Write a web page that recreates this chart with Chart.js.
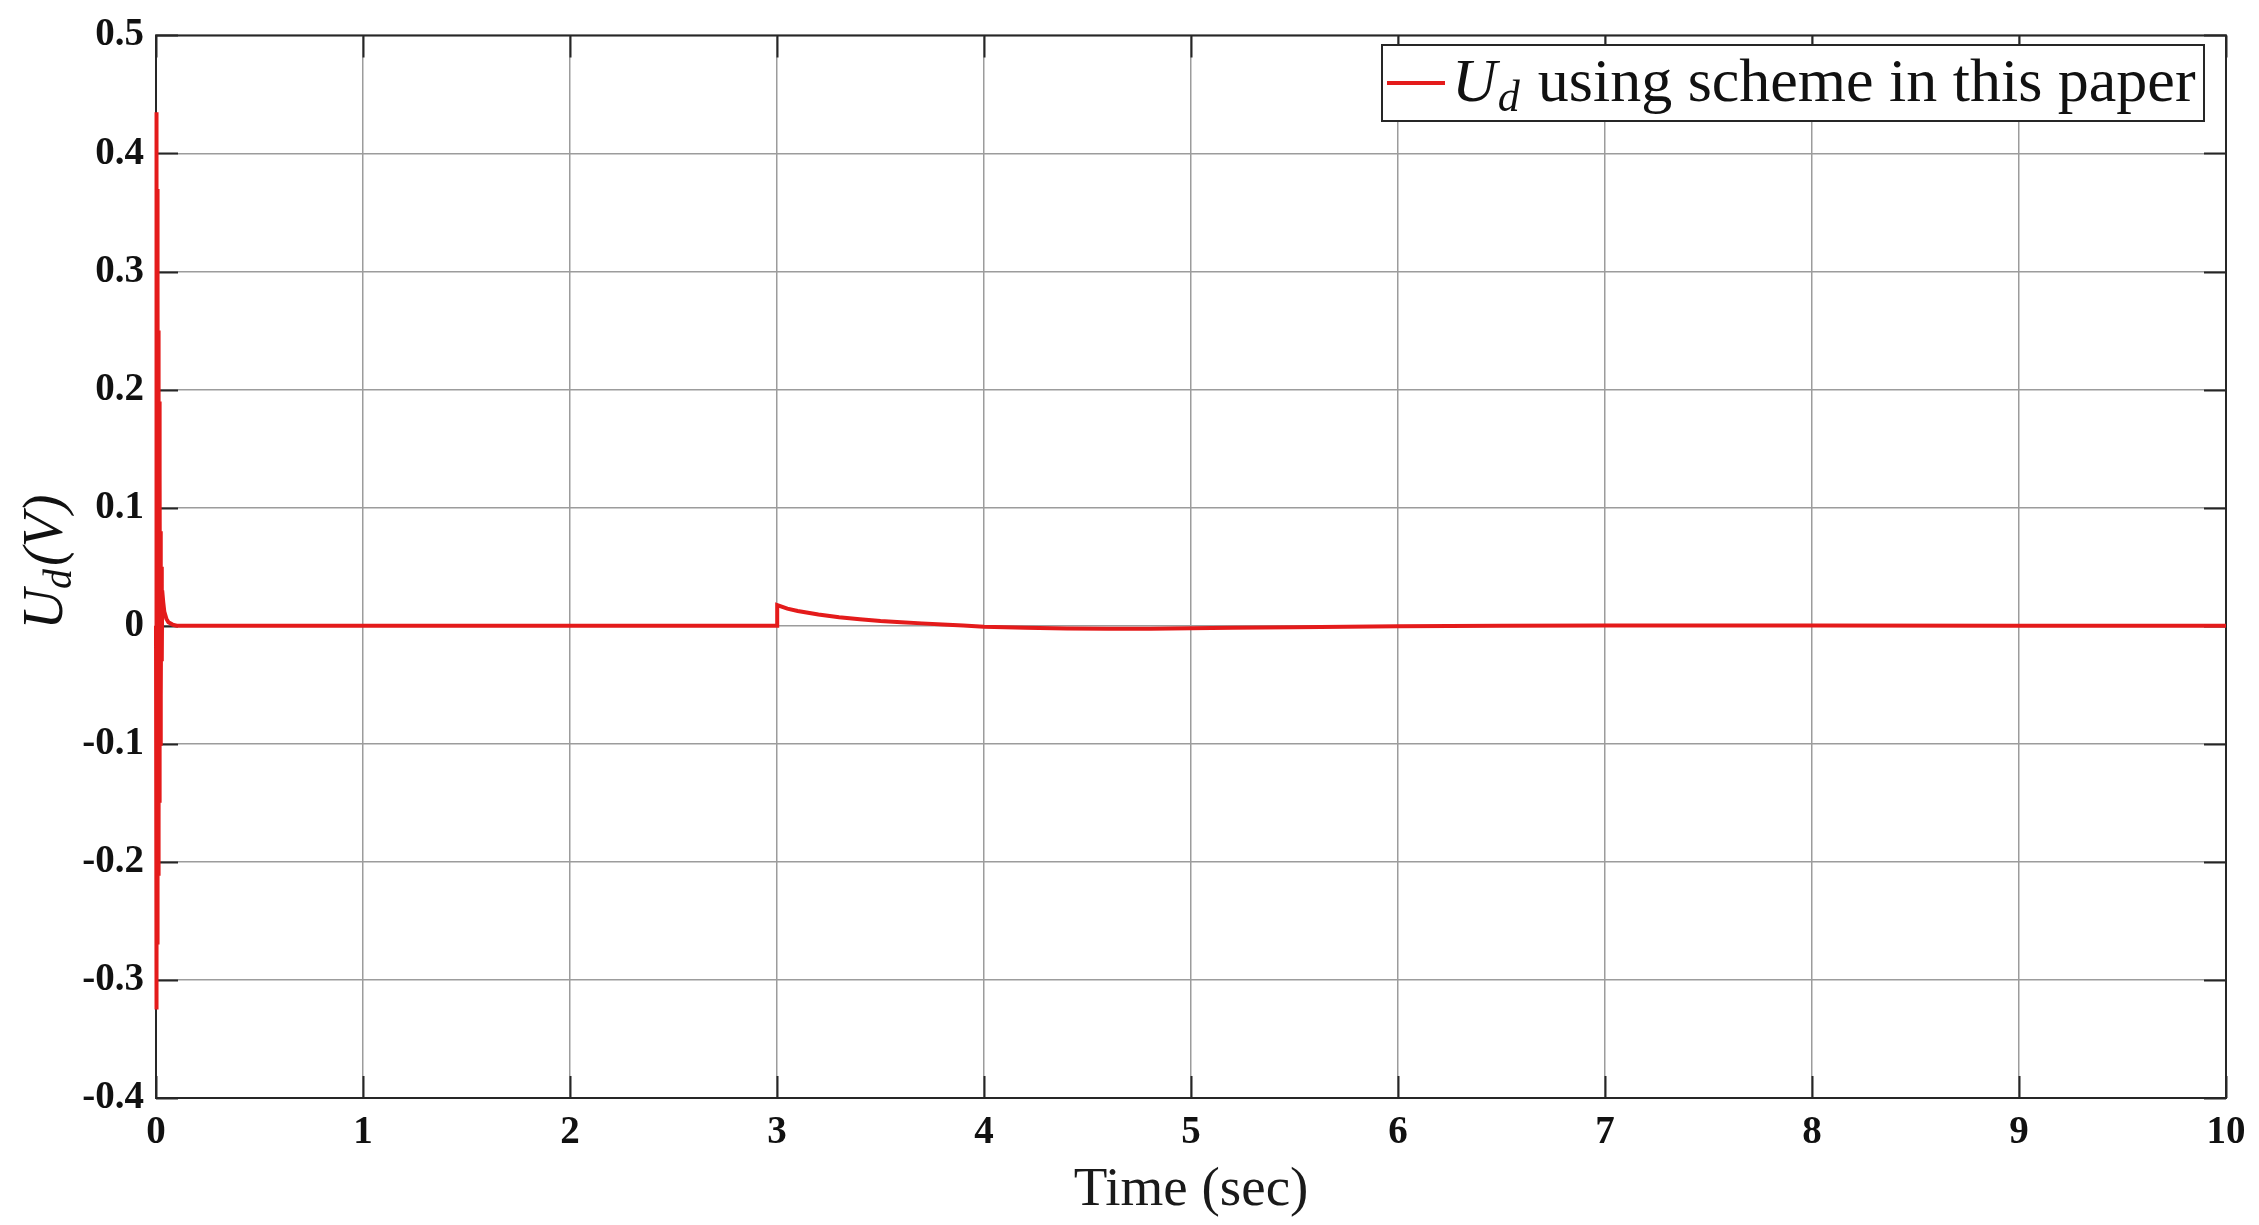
<!DOCTYPE html>
<html>
<head>
<meta charset="utf-8">
<script src="https://cdn.jsdelivr.net/npm/chart.js@4"></script>
<style>
    body { margin: 0; background: #fff; }
    #wrap { width: 2259px; height: 1225px; position: relative; }
</style>
</head>
<body>
<div id="wrap"><canvas id="chart-ud"></canvas></div>
<script>
// Sample times (sec) and U_d values (V)
const timeSec = [
    0, 0.001, 0.002, 0.003, 0.004, 0.005, 0.006, 0.007, 0.008, 0.009,
    0.010, 0.011, 0.012, 0.013, 0.014, 0.015, 0.016, 0.017, 0.018, 0.019,
    0.020, 0.022, 0.024, 0.026, 0.028, 0.030, 0.035, 0.040, 0.050, 0.060,
    0.080, 0.10, 0.5, 1, 2, 2.999,
    3.0, 3.001, 3.05, 3.1, 3.2, 3.3, 3.4, 3.5, 3.6, 3.7,
    3.8, 3.9, 4.0, 4.2, 4.4, 4.6, 4.8, 5.0, 5.2, 5.5,
    6.0, 6.5, 7.0, 8.0, 9.0, 10
];
const udValues = [
    0, 0.435, -0.325, 0.41, -0.30, 0.37, -0.27, 0.33, -0.24, 0.29,
    -0.21, 0.25, -0.19, 0.22, -0.17, 0.19, -0.15, 0.16, -0.13, 0.13,
    -0.10, 0.08, -0.06, 0.05, -0.03, 0.03, 0.02, 0.012, 0.006, 0.003,
    0.001, 0, 0, 0, 0, 0,
    0, 0.0175, 0.0145, 0.0125, 0.0095, 0.0072, 0.0055, 0.004, 0.003, 0.002,
    0.001, 0.0002, -0.0008, -0.0018, -0.0024, -0.0026, -0.0025, -0.0022, -0.0018, -0.0012,
    -0.0005, 0, 0.0002, 0.0001, 0, 0
];

const xTicks = { min: 0, max: 10, step: 1 };
const yTicks = { min: -0.4, max: 0.5, step: 0.1 };

const seriesLabel = 'using scheme in this paper';
const lineColor = '#e41b1b';
const serif = '"Liberation Serif", "Times New Roman", serif';

// MATLAB-style box and inward ticks, drawn under the data line
const matlabBox = {
    id: 'matlabBox',
    beforeDatasetsDraw(chart) {
        const ctx = chart.ctx;
        const a = chart.chartArea;
        const xs = chart.scales.x, ys = chart.scales.y;
        const tickLen = 22;

        ctx.save();
        ctx.strokeStyle = '#262626';
        ctx.lineWidth = 2;
        xs.ticks.forEach(t => {
            const px = Math.round(xs.getPixelForValue(t.value)) + 0.5;
            ctx.beginPath();
            ctx.moveTo(px, a.bottom); ctx.lineTo(px, a.bottom - tickLen);
            ctx.moveTo(px, a.top); ctx.lineTo(px, a.top + tickLen);
            ctx.stroke();
        });
        ys.ticks.forEach(t => {
            const py = Math.round(ys.getPixelForValue(t.value)) + 0.5;
            ctx.beginPath();
            ctx.moveTo(a.left, py); ctx.lineTo(a.left + tickLen, py);
            ctx.moveTo(a.right, py); ctx.lineTo(a.right - tickLen, py);
            ctx.stroke();
        });
        ctx.strokeRect(a.left, a.top, a.right - a.left, a.bottom - a.top);
        ctx.restore();
    }
};

// Legend and y title (with subscript)
const matlabText = {
    id: 'matlabText',
    afterDatasetsDraw(chart) {
        const ctx = chart.ctx;
        ctx.save();

        const bx = 1382, by = 45, bw = 822, bh = 76;
        ctx.fillStyle = '#fff';
        ctx.fillRect(bx, by, bw, bh);
        ctx.strokeStyle = '#262626';
        ctx.lineWidth = 2;
        ctx.strokeRect(bx, by, bw, bh);
        ctx.strokeStyle = lineColor;
        ctx.lineWidth = 4;
        ctx.beginPath();
        ctx.moveTo(1387, 83); ctx.lineTo(1445, 83);
        ctx.stroke();

        ctx.fillStyle = '#111';
        ctx.textBaseline = 'alphabetic';
        ctx.textAlign = 'left';
        let x = 1452;
        const base = 101;
        ctx.font = 'italic 62px ' + serif;
        ctx.fillText('U', x, base);
        x += ctx.measureText('U').width + 1;
        ctx.font = 'italic 44px ' + serif;
        ctx.fillText('d', x, base + 10);
        x += ctx.measureText('d').width + 18;
        ctx.font = '62px ' + serif;
        ctx.fillText(seriesLabel, x, base);

        // y-axis title U_d(V), rotated
        ctx.translate(62, 562);
        ctx.rotate(-Math.PI / 2);
        ctx.font = 'italic 56px ' + serif;
        const wU = ctx.measureText('U').width;
        ctx.font = 'italic 40px ' + serif;
        const wd = ctx.measureText('d').width;
        ctx.font = 'italic 56px ' + serif;
        const wRest = ctx.measureText('(V)').width;
        let tx = -(wU + wd + wRest + 3) / 2;
        ctx.fillText('U', tx, 0);
        tx += wU;
        ctx.font = 'italic 40px ' + serif;
        ctx.fillText('d', tx, 9);
        tx += wd + 3;
        ctx.font = 'italic 56px ' + serif;
        ctx.fillText('(V)', tx, 0);
        ctx.restore();
    }
};

document.addEventListener('DOMContentLoaded', () => {
    const points = timeSec.map((t, i) => ({ x: t, y: udValues[i] }));
    const ctx = document.getElementById('chart-ud').getContext('2d');

    new Chart(ctx, {
        type: 'line',
        data: {
            datasets: [{
                label: seriesLabel,
                data: points,
                borderColor: lineColor,
                borderWidth: 4,
                pointRadius: 0,
                tension: 0,
                fill: false,
                clip: 6
            }]
        },
        options: {
            responsive: true,
            maintainAspectRatio: false,
            animation: false,
            layout: { padding: { left: 0, right: 33, top: 30, bottom: 0 } },
            plugins: {
                legend: { display: false },
                tooltip: { enabled: false }
            },
            scales: {
                x: {
                    type: 'linear',
                    min: xTicks.min,
                    max: xTicks.max,
                    grid: { color: '#9c9c9c', lineWidth: 1.5, drawTicks: false },
                    border: { display: false },
                    ticks: {
                        stepSize: xTicks.step,
                        padding: 12,
                        color: '#111',
                        font: { family: serif, size: 39, weight: 'bold' }
                    },
                    title: {
                        display: true,
                        text: 'Time (sec)',
                        color: '#1a1a1a',
                        font: { family: serif, size: 55 },
                        padding: { top: 0, bottom: 1 }
                    },
                    afterFit: s => { s.height = 127; }
                },
                y: {
                    min: yTicks.min,
                    max: yTicks.max,
                    grid: { color: '#9c9c9c', lineWidth: 1.5, drawTicks: false },
                    border: { display: false },
                    ticks: {
                        stepSize: yTicks.step,
                        padding: 12,
                        color: '#111',
                        font: { family: serif, size: 39, weight: 'bold' },
                        callback: v => Number(v.toFixed(1)).toString()
                    },
                    afterFit: s => { s.width = 156; }
                }
            }
        },
        plugins: [matlabBox, matlabText]
    });
});
</script>
</body>
</html>
